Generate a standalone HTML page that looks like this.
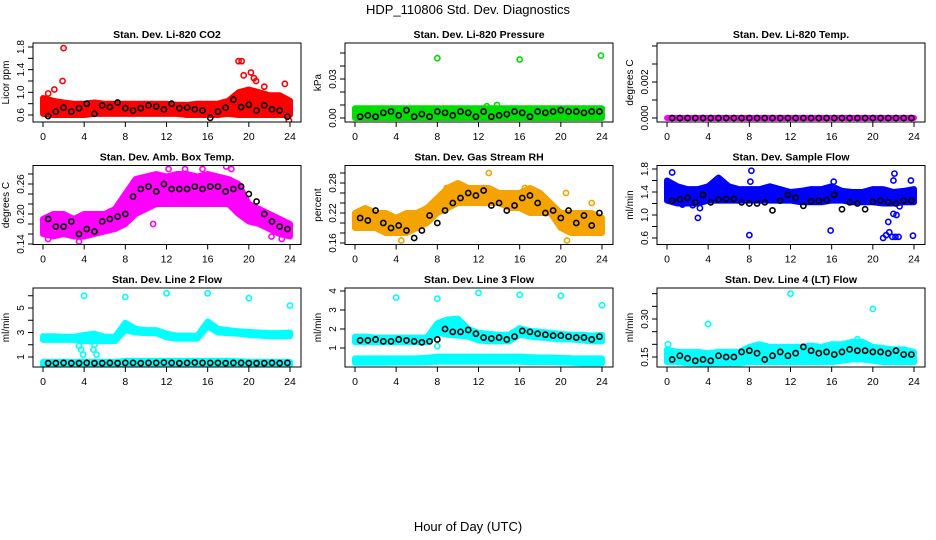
<!DOCTYPE html>
<html><head><meta charset="utf-8"><style>
body{margin:0;background:#fff}
svg{display:block;font-family:"Liberation Sans",sans-serif}
</style></head><body>
<svg id="chart" width="936" height="540" viewBox="0 0 936 540" xmlns="http://www.w3.org/2000/svg">
<text x="468" y="14" text-anchor="middle" font-size="13">HDP_110806  Std. Dev. Diagnostics</text>
<text x="468" y="531" text-anchor="middle" font-size="13">Hour of Day (UTC)</text>
</svg>
<script>
const bandHours=[0,1,2,3,4,5,6,7,8,9,10,11,12,13,14,15,16,17,18,19,20,21,22,23,24];
const blackHours=[0.5,1.25,2,2.75,3.5,4.25,5,5.75,6.5,7.25,8,8.75,9.5,10.25,11,11.75,12.5,13.25,14,14.75,15.5,16.25,17,17.75,18.5,19.25,20,20.75,21.5,22.25,23,23.75];
const xTicks=[0,4,8,12,16,20,24];

const co2Lo=[0.62,0.6,0.6,0.6,0.6,0.62,0.62,0.62,0.62,0.62,0.62,0.62,0.62,0.62,0.6,0.6,0.6,0.6,0.62,0.6,0.6,0.6,0.6,0.6,0.6];
const co2Hi=[0.9,0.85,0.82,0.8,0.8,0.82,0.8,0.8,0.8,0.8,0.8,0.8,0.8,0.78,0.78,0.8,0.8,0.8,0.85,1.0,1.05,1.0,0.95,0.95,0.85];
const co2OutX=[2.0,1.9,19,19.3,19.5,20.2,20.5,23.5,0.5,1.1,23.9,20.7,21.5];
const co2OutY=[1.78,1.2,1.55,1.55,1.3,1.35,1.25,1.15,0.98,1.05,0.5,1.2,1.1];
const co2Black=[0.58,0.66,0.73,0.66,0.72,0.8,0.62,0.77,0.74,0.82,0.72,0.68,0.72,0.77,0.75,0.7,0.8,0.72,0.73,0.7,0.68,0.55,0.66,0.73,0.87,0.74,0.78,0.68,0.77,0.7,0.68,0.57];

const presLo=[0,0,0,0,0,0,0,0,0,0,0,0,0,0,0,0,0,0,0,0,0,0,0,0,0];
const presHi=[0.0075,0.0075,0.0075,0.0075,0.0075,0.0075,0.0075,0.0075,0.0075,0.0075,0.0075,0.0075,0.0075,0.0075,0.0075,0.0075,0.0075,0.0075,0.0075,0.0075,0.0075,0.0075,0.0075,0.0075,0.0075];
const presOutX=[8,16,23.9,12.8,13.8];
const presOutY=[0.046,0.045,0.048,0.009,0.01];
const presBlack=[0.001,0.002,0.001,0.004,0.005,0.002,0.006,0.001,0.003,0.001,0.005,0.004,0.002,0.005,0.004,0.001,0.005,0.001,0.002,0.003,0.005,0.004,0.001,0.005,0.004,0.005,0.006,0.005,0.005,0.004,0.005,0.005];

const tempLo=[0,0,0,0,0,0,0,0,0,0,0,0,0,0,0,0,0,0,0,0,0,0,0,0,0];
const tempHi=[0,0,0,0,0,0,0,0,0,0,0,0,0,0,0,0,0,0,0,0,0,0,0,0,0];
const tempOutX=[23.3];
const tempOutY=[0.0047];
const tempBlack=[0,0,0,0,0,0,0,0,0,0,0,0,0,0,0,0,0,0,0,0,0,0,0,0,0,0,0,0,0,0,0,0];

const ambLo=[0.16,0.155,0.16,0.155,0.155,0.16,0.165,0.17,0.18,0.2,0.21,0.22,0.22,0.22,0.22,0.22,0.22,0.22,0.22,0.2,0.185,0.18,0.17,0.16,0.155];
const ambHi=[0.19,0.2,0.2,0.19,0.2,0.2,0.2,0.21,0.24,0.27,0.275,0.28,0.275,0.28,0.28,0.275,0.28,0.275,0.27,0.26,0.22,0.21,0.2,0.19,0.18];
const ambOutX=[0.5,3.5,10.7,12.2,13.8,15.5,17.8,18.3,23.2,22.2];
const ambOutY=[0.15,0.145,0.18,0.29,0.29,0.29,0.295,0.29,0.15,0.155];
const ambBlack=[0.19,0.175,0.175,0.185,0.16,0.17,0.165,0.185,0.19,0.195,0.2,0.235,0.25,0.255,0.245,0.26,0.25,0.25,0.25,0.255,0.25,0.255,0.255,0.245,0.25,0.255,0.24,0.225,0.2,0.185,0.175,0.17];

const rhLo=[0.19,0.19,0.19,0.18,0.18,0.18,0.19,0.2,0.22,0.23,0.24,0.24,0.24,0.24,0.24,0.23,0.23,0.22,0.22,0.22,0.19,0.18,0.18,0.18,0.18];
const rhHi=[0.22,0.23,0.22,0.22,0.21,0.22,0.22,0.23,0.25,0.27,0.28,0.27,0.27,0.27,0.26,0.26,0.26,0.27,0.26,0.24,0.22,0.22,0.22,0.22,0.21];
const rhOutX=[13,4.5,8.9,20.6,20.5,23,16.5,12.5];
const rhOutY=[0.3,0.165,0.27,0.165,0.26,0.24,0.27,0.27];
const rhBlack=[0.21,0.205,0.225,0.2,0.19,0.195,0.185,0.17,0.185,0.215,0.2,0.225,0.24,0.25,0.26,0.255,0.265,0.235,0.24,0.225,0.235,0.25,0.255,0.24,0.22,0.225,0.21,0.225,0.2,0.215,0.195,0.22];

const sfLo=[1.25,1.2,1.2,1.2,1.25,1.25,1.25,1.25,1.25,1.25,1.25,1.25,1.25,1.22,1.22,1.22,1.25,1.25,1.22,1.22,1.22,1.2,1.2,1.22,1.22];
const sfHi=[1.6,1.5,1.45,1.45,1.5,1.65,1.5,1.45,1.45,1.45,1.5,1.45,1.4,1.42,1.45,1.45,1.5,1.42,1.4,1.4,1.45,1.45,1.4,1.42,1.45];
const sfOutX=[0.5,3.0,3.2,8,8.2,8.1,15.9,16.2,21,21.3,21.6,21.9,22.2,22.5,21.5,22,22.3,22,22.1,22.6,23.9,23.7,1.5,2.5];
const sfOutY=[1.74,0.95,1.12,0.65,1.77,1.58,0.73,1.58,0.6,0.65,0.7,0.62,0.62,0.62,0.88,1.02,1.0,1.6,1.72,1.15,0.64,1.6,1.18,1.17];
const sfBlack=[1.25,1.27,1.3,1.22,1.35,1.22,1.27,1.28,1.28,1.22,1.2,1.2,1.22,1.08,1.25,1.35,1.3,1.16,1.24,1.25,1.26,1.35,1.1,1.22,1.2,1.1,1.23,1.25,1.22,1.2,1.25,1.25];

const l2Lo=[2.4,2.4,2.4,2.4,2.3,2.3,2.3,2.3,3.2,3.0,2.95,2.95,2.6,2.5,2.5,2.5,3.5,3.0,2.95,2.9,2.8,2.75,2.7,2.7,2.7];
const l2Hi=[2.7,2.7,2.65,2.65,2.8,2.9,2.65,2.65,3.8,3.3,3.2,3.2,2.9,2.75,2.75,2.75,3.9,3.3,3.2,3.1,3.05,3.0,2.95,2.95,3.0];
const l2LowLo=[0.35,0.35,0.35,0.35,0.35,0.35,0.35,0.35,0.38,0.38,0.38,0.38,0.38,0.38,0.38,0.38,0.38,0.38,0.38,0.38,0.36,0.36,0.36,0.36,0.36];
const l2LowHi=[0.6,0.6,0.6,0.6,0.62,0.6,0.6,0.6,0.68,0.68,0.68,0.68,0.68,0.68,0.68,0.68,0.68,0.68,0.68,0.66,0.62,0.6,0.6,0.6,0.6];
const l2OutX=[4,8,12,16,20,24,3.5,3.7,3.9,4.9,5.2,5];
const l2OutY=[6,5.9,6.2,6.2,5.8,5.2,1.9,1.6,1.2,1.6,1.2,2.0];
const l2Black=[0.5,0.5,0.52,0.5,0.5,0.52,0.5,0.5,0.52,0.5,0.52,0.52,0.5,0.52,0.52,0.55,0.52,0.5,0.52,0.55,0.52,0.52,0.52,0.5,0.52,0.52,0.5,0.5,0.5,0.52,0.5,0.52];

const l3Lo=[1.3,1.3,1.3,1.3,1.3,1.3,1.3,1.3,1.8,1.7,1.65,1.6,1.4,1.35,1.35,1.35,1.7,1.6,1.55,1.5,1.45,1.45,1.4,1.35,1.35];
const l3Hi=[1.6,1.6,1.55,1.55,1.55,1.55,1.55,1.55,2.3,2.5,2.55,2.0,1.8,1.75,1.7,1.7,2.05,1.9,1.85,1.8,1.75,1.7,1.7,1.65,1.7];
const l3LowLo=[0.22,0.22,0.22,0.22,0.24,0.24,0.24,0.25,0.28,0.28,0.28,0.28,0.28,0.28,0.28,0.28,0.28,0.26,0.26,0.26,0.24,0.22,0.2,0.2,0.2];
const l3LowHi=[0.45,0.45,0.45,0.45,0.45,0.45,0.46,0.48,0.55,0.55,0.55,0.55,0.55,0.55,0.55,0.55,0.55,0.52,0.5,0.5,0.48,0.46,0.45,0.45,0.45];
const l3OutX=[4,8,12,16,20,24,8,8.5];
const l3OutY=[3.65,3.6,3.9,3.8,3.75,3.25,1.1,2.4];
const l3Black=[1.4,1.4,1.45,1.35,1.35,1.45,1.4,1.35,1.3,1.35,1.45,2.0,1.85,1.85,1.95,1.75,1.55,1.5,1.55,1.45,1.6,1.9,1.85,1.75,1.7,1.65,1.65,1.6,1.55,1.55,1.45,1.6];

const l4Lo=[0.13,0.13,0.125,0.125,0.12,0.125,0.125,0.125,0.13,0.13,0.13,0.13,0.13,0.13,0.13,0.13,0.13,0.135,0.14,0.14,0.135,0.13,0.13,0.13,0.13];
const l4Hi=[0.18,0.17,0.17,0.17,0.165,0.17,0.17,0.17,0.19,0.2,0.19,0.19,0.19,0.19,0.195,0.19,0.2,0.2,0.21,0.21,0.19,0.185,0.18,0.18,0.17];
const l4OutX=[4,12,20,0.1,18.5];
const l4OutY=[0.28,0.4,0.34,0.2,0.22];
const l4Black=[0.14,0.155,0.145,0.135,0.14,0.135,0.155,0.15,0.15,0.17,0.175,0.165,0.14,0.155,0.17,0.155,0.165,0.19,0.175,0.165,0.17,0.16,0.17,0.18,0.175,0.175,0.17,0.17,0.165,0.175,0.16,0.16];

const panels=[
 {name:'co2',title:'Stan. Dev. Li-820 CO2',ylab:'Licor ppm',color:'#ff0000',r:0,c:0,v1:0.6,p1:115,v2:1.8,p2:47,ticks:[0.6,0.8,1.0,1.2,1.4,1.6,1.8],labels:['0.6','','1.0','','1.4','','1.8'],bands:[[co2Lo,co2Hi]],ox:co2OutX,oy:co2OutY,black:co2Black},
 {name:'pressure',title:'Stan. Dev. Li-820 Pressure',ylab:'kPa',color:'#00dd00',r:0,c:1,v1:0,p1:118,v2:0.05,p2:53,ticks:[0,0.01,0.02,0.03,0.04,0.05],labels:['0.00','','','0.03','',''],bands:[[presLo,presHi]],ox:presOutX,oy:presOutY,black:presBlack},
 {name:'li820-temp',title:'Stan. Dev. Li-820 Temp.',ylab:'degrees C',color:'#ff00ff',r:0,c:2,v1:0,p1:118,v2:0.002,p2:82,ticks:[0,0.001,0.002,0.003,0.004],labels:['0.000','','0.002','',''],bands:[[tempLo,tempHi]],ox:tempOutX,oy:tempOutY,black:tempBlack},
 {name:'amb-box-temp',title:'Stan. Dev. Amb. Box Temp.',ylab:'degrees C',color:'#ff00ff',r:1,c:0,v1:0.14,p1:244,v2:0.26,p2:184,ticks:[0.14,0.16,0.18,0.2,0.22,0.24,0.26,0.28],labels:['0.14','','','0.20','','','0.26',''],bands:[[ambLo,ambHi]],ox:ambOutX,oy:ambOutY,black:ambBlack},
 {name:'gas-stream-rh',title:'Stan. Dev. Gas Stream RH',ylab:'percent',color:'#f5a300',r:1,c:1,v1:0.16,p1:243,v2:0.28,p2:183,ticks:[0.16,0.18,0.2,0.22,0.24,0.26,0.28,0.30],labels:['0.16','','','0.22','','','0.28',''],bands:[[rhLo,rhHi]],ox:rhOutX,oy:rhOutY,black:rhBlack},
 {name:'sample-flow',title:'Stan. Dev. Sample Flow',ylab:'ml/min',color:'#0000ff',r:1,c:2,v1:0.6,p1:238,v2:1.8,p2:169,ticks:[0.6,0.8,1.0,1.2,1.4,1.6,1.8],labels:['0.6','','1.0','','1.4','','1.8'],bands:[[sfLo,sfHi]],ox:sfOutX,oy:sfOutY,black:sfBlack},
 {name:'line2-flow',title:'Stan. Dev. Line 2 Flow',ylab:'ml/min',color:'#00ffff',r:2,c:0,v1:1,p1:357,v2:5,p2:308,ticks:[1,2,3,4,5,6],labels:['1','','3','','5',''],bands:[[l2Lo,l2Hi],[l2LowLo,l2LowHi]],ox:l2OutX,oy:l2OutY,black:l2Black},
 {name:'line3-flow',title:'Stan. Dev. Line 3 Flow',ylab:'ml/min',color:'#00ffff',r:2,c:1,v1:1,p1:348,v2:4,p2:291,ticks:[1,2,3,4],labels:['1','2','3','4'],bands:[[l3Lo,l3Hi],[l3LowLo,l3LowHi]],ox:l3OutX,oy:l3OutY,black:l3Black},
 {name:'line4-flow',title:'Stan. Dev. Line 4 (LT) Flow',ylab:'ml/min',color:'#00ffff',r:2,c:2,v1:0.15,p1:357,v2:0.30,p2:319,ticks:[0.15,0.2,0.25,0.3,0.35,0.4],labels:['0.15','','','0.30','',''],bands:[[l4Lo,l4Hi]],ox:l4OutX,oy:l4OutY,black:l4Black}
];

const svg=document.getElementById('chart');
const NS='http://www.w3.org/2000/svg';
function mk(tag,attrs,parent){const e=document.createElementNS(NS,tag);for(const k in attrs)e.setAttribute(k,attrs[k]);(parent||svg).appendChild(e);return e;}

panels.forEach(p=>{
  const left=33+312*p.c, top=43+122.5*p.r, W=268, H=79, bottom=top+H;
  const xs=h=>43+312*p.c+h*(247/24);
  const ys=v=>p.p1+(v-p.v1)*(p.p2-p.p1)/(p.v2-p.v1);
  const g=mk('g',{});
  
  
  const clip=mk('clipPath',{id:'clip-'+p.name},g);
  mk('rect',{x:left,y:top,width:W,height:H},clip);
  const plot=mk('g',{'clip-path':'url(#clip-'+p.name+')'},g);
  p.bands.forEach((b,bi)=>{
    let d='';
    bandHours.forEach((h,i)=>{d+=(i?'L':'M')+xs(h).toFixed(1)+','+ys(b[1][i]).toFixed(1);});
    for(let i=bandHours.length-1;i>=0;i--)d+='L'+xs(bandHours[i]).toFixed(1)+','+ys(b[0][i]).toFixed(1);
    d+='Z';
    const a=mk('path',{d:d,fill:p.color,stroke:p.color,'stroke-width':6,'stroke-linejoin':'round'},plot);
    
    
  });
  p.ox.forEach((x,i)=>{
    const c=mk('circle',{cx:xs(x),cy:ys(p.oy[i]),r:2.6,fill:'none',stroke:p.color,'stroke-width':1.6},plot);
    
    
  });
  p.black.forEach((v,i)=>{
    const c=mk('circle',{cx:xs(blackHours[i]),cy:ys(v),r:2.6,fill:'none',stroke:'#000','stroke-width':1.6},plot);
    
    
  });
  const bx=mk('rect',{x:left,y:top,width:W,height:H,fill:'none',stroke:'#000','stroke-width':1},g);
  
  
  const t=mk('text',{x:left+W/2,y:top-5,'text-anchor':'middle','font-size':10.5,'font-weight':'bold'},g);
  t.textContent=p.title;
  
  
  mk('line',{x1:xs(0),x2:xs(24),y1:bottom,y2:bottom,stroke:'#000'},g);
  xTicks.forEach(h=>{
    mk('line',{x1:xs(h),x2:xs(h),y1:bottom,y2:bottom+5,stroke:'#000'},g);
    const l=mk('text',{x:xs(h),y:bottom+18,'text-anchor':'middle','font-size':10.5},g);
    l.textContent=h;
    
    
  });
  p.ticks.forEach((v,i)=>{
    const y=ys(v);
    if(y<top-1||y>bottom+1)return;
    mk('line',{x1:left-5,x2:left,y1:y,y2:y,stroke:'#000'},g);
    if(p.labels[i]){
      const l=mk('text',{x:left-9,y:y,'text-anchor':'middle','font-size':10,transform:'rotate(-90 '+(left-9)+' '+y+')'},g);
      l.textContent=p.labels[i];
      
      
    }
  });
  const yl=mk('text',{x:left-24,y:top+H/2,'text-anchor':'middle','font-size':10,transform:'rotate(-90 '+(left-24)+' '+(top+H/2)+')'},g);
  yl.textContent=p.ylab;
  
  
});
</script>
</body></html>
